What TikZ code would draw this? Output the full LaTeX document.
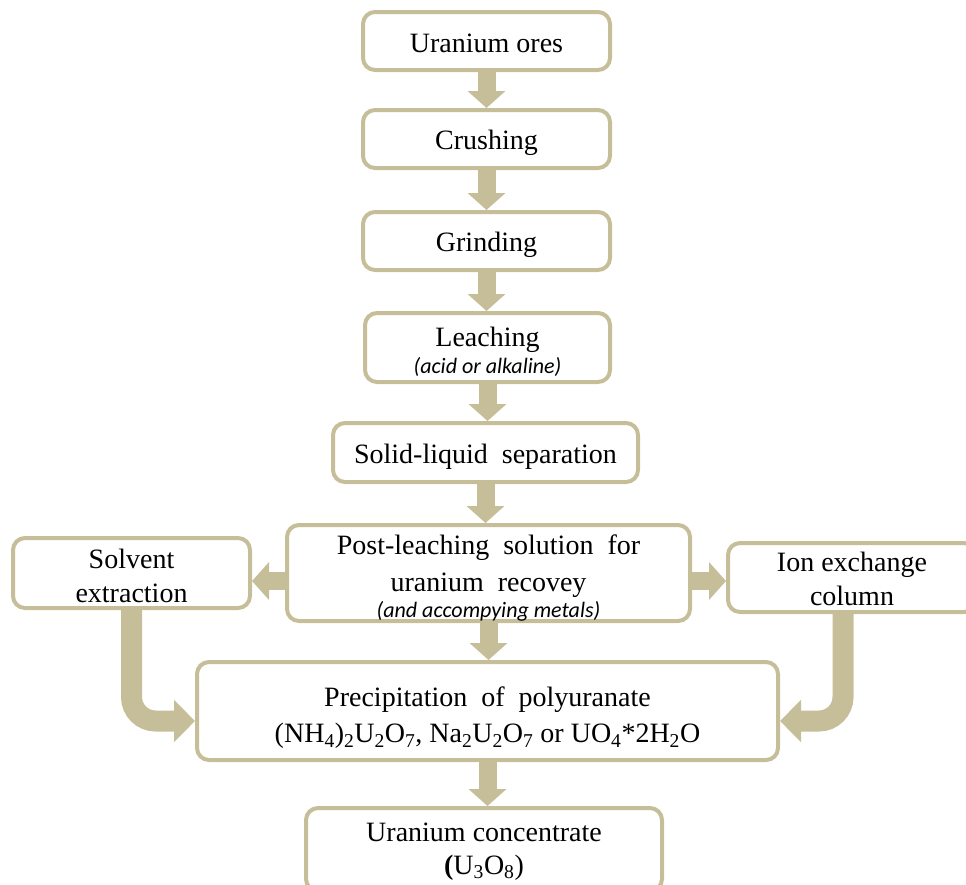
\documentclass[tikz,border=0pt]{standalone}
\usepackage{fontspec}
\setmainfont{Liberation Serif}
\newfontfamily\subfont{Carlito}
\usetikzlibrary{arrows.meta}
\definecolor{khaki}{RGB}{198,190,152}
\newcommand{\subtxt}[1]{{\subfont\itshape\fontsize{22}{25}\selectfont #1}}
\begin{document}
\begin{tikzpicture}[x=1pt,y=-1pt,
  box/.style={draw=khaki, line width=4pt, rounded corners=12pt, fill=white, inner sep=0pt},
  lbl/.style={align=center, inner sep=0pt, font=\fontsize{28}{35}\selectfont},
  flow/.style={draw=khaki, line width=18pt, -{Triangle[width=37pt,length=17pt]}},
  bentflow/.style={draw=khaki, line width=21pt, rounded corners=24pt, -{Triangle[width=41pt,length=21pt]}}]
\useasboundingbox (0,0) rectangle (966,884);
% boxes
\node[box, minimum width=247pt, minimum height=58pt] (ores) at (486.5,41) {};
\node[box, minimum width=247pt, minimum height=58pt] (crush) at (486.5,139) {};
\node[box, minimum width=247pt, minimum height=58pt] (grind) at (486.5,241) {};
\node[box, minimum width=245pt, minimum height=69pt] (leach) at (487.5,347.5) {};
\node[box, minimum width=305pt, minimum height=59pt] (solid) at (485.5,452.5) {};
\node[box, minimum width=403pt, minimum height=96pt] (post) at (488.5,573) {};
\node[box, minimum width=237pt, minimum height=70pt] (solvent) at (131.5,573) {};
\node[box, minimum width=248pt, minimum height=69pt] (ion) at (852,577.5) {};
\node[box, minimum width=581pt, minimum height=98pt] (precip) at (487.5,711) {};
\node[box, minimum width=356pt, minimum height=83pt] (conc) at (484,849.5) {};
% labels
\node[lbl] (oresT) at ([yshift=-2pt]ores.center) {Uranium ores};
\node[lbl] (crushT) at ([yshift=-4pt]crush.center) {Crushing};
\node[lbl] (grindT) at ([yshift=-4pt]grind.center) {Grinding};
\node[lbl] (leachT) at ([yshift=-4pt]leach.center) {Leaching\\[-8pt]\subtxt{(acid or alkaline)}};
\node[lbl] (solidT) at ([yshift=-4pt]solid.center) {Solid-liquid\ \ separation};
\node[lbl] (postT) at ([yshift=-5.5pt]post.center) {Post-leaching\ \ solution\ \ for\\[2pt] uranium\ \ recovey\\[-9pt]\subtxt{(and accompying metals)}};
\node[lbl] (solventT) at ([yshift=-2.5pt]solvent.center) {Solvent\\[-1pt]extraction};
\node[lbl] (ionT) at ([yshift=-1.5pt]ion.center) {Ion exchange\\[-1pt]column};
\node[lbl] (precipT) at ([yshift=-7pt]precip.center) {Precipitation\ \ of\ \ polyuranate\\[1pt](NH\textsubscript{4})\textsubscript{2}U\textsubscript{2}O\textsubscript{7}, Na\textsubscript{2}U\textsubscript{2}O\textsubscript{7} or UO\textsubscript{4}*2H\textsubscript{2}O};
\node[lbl] (concT) at ([yshift=-2pt]conc.center) {Uranium concentrate\\[-2pt]\textbf{(}U\textsubscript{3}O\textsubscript{8})};
% straight flow arrows
\draw[flow] (ores.south) -- (ores.south |- crush.north);
\draw[flow] (crush.south) -- (crush.south |- grind.north);
\draw[flow] (grind.south) -- (grind.south |- leach.north);
\draw[flow] (leach.south) -- (leach.south |- solid.north);
\draw[flow] (solid.south) -- (solid.south |- post.north);
\draw[flow] (post.south) -- (post.south |- precip.north);
\draw[flow] (precip.south) -- (precip.south |- conc.north);
\coordinate (pl) at ([yshift=-8pt]post.west);
\coordinate (pr) at ([yshift=-8pt]post.east);
\draw[flow] (pl) -- (pl -| solvent.east);
\draw[flow] (pr) -- (pr -| ion.west);
% bent arrows
\coordinate (pw) at ([yshift=-10pt]precip.west);
\coordinate (pe) at ([yshift=-10pt]precip.east);
\coordinate (ia) at ([xshift=-9pt]ion.south);
\draw[bentflow] (solvent.south) |- (pw);
\draw[bentflow] (ia) |- (pe);
\end{tikzpicture}
\end{document}
